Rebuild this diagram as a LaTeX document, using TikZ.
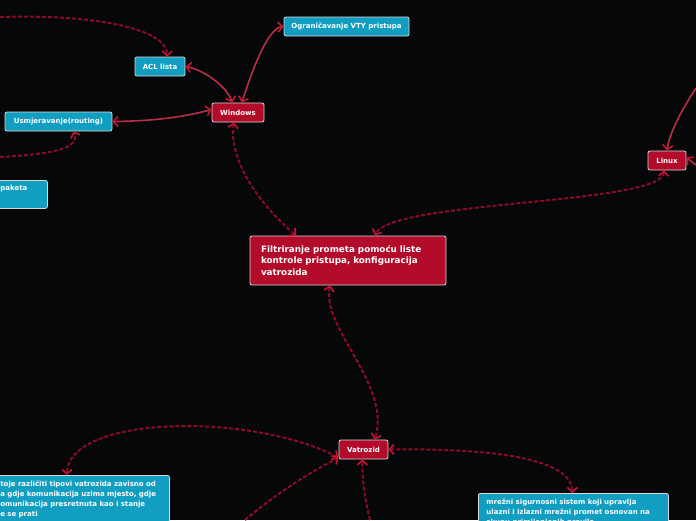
\documentclass[tikz,border=0pt]{standalone}
\usepackage{fontspec}
\setmainfont{DejaVu Sans}
\usetikzlibrary{arrows.meta,calc}
\definecolor{bgdark}{RGB}{5,7,9}
\definecolor{topicred}{RGB}{179,12,42}
\definecolor{topiccyan}{RGB}{18,158,192}
\definecolor{linkred}{RGB}{140,12,38}
\definecolor{tipred}{RGB}{205,18,50}

\begin{document}
\begin{tikzpicture}[x=1pt,y=-1pt,
    >={Straight Barb[length=4.5pt,width=10pt,line width=1.6pt,color=tipred]},
    tp/.style={draw=white!85!black,rounded corners=2pt,line width=0.8pt,text=white,
               font=\fontsize{7}{9.5}\selectfont\bfseries,inner sep=0pt,minimum height=19pt},
    hub/.style={tp,fill=topicred},
    leaf/.style={tp,fill=topiccyan},
    note/.style={tp,fill=topiccyan,align=left,anchor=north west,inner xsep=8pt,inner ysep=5pt,
                 font=\fontsize{7}{10}\selectfont\bfseries},
    dl/.style={linkred,line width=2pt,dash pattern=on 4pt off 2pt},
    sl/.style={tipred!75!gray,line width=1.6pt}]
    \useasboundingbox (0,0) rectangle (696,520);
    \fill[bgdark] (0,0) rectangle (696,520);
    \node[leaf,minimum width=50pt]  (acl)  at (160,66.5)   {ACL lista};
    \node[leaf,minimum width=125pt] (vty)  at (346.5,26.5) {Ograničavanje VTY pristupa};
    \node[hub,minimum width=52pt]   (win)  at (238,112.5)  {Windows};
    \node[leaf,minimum width=107pt] (rout) at (58.5,121.5) {Usmjeravanje(routing)};
    \node[leaf,anchor=north west,minimum width=51pt,minimum height=28pt,text width=43pt,
          align=left,text height=7pt,text depth=14pt] (pak) at (-4,180) {paketa};
    \node[hub,minimum width=38pt]   (lin)  at (667,160.5)  {Linux};
    \node[hub,minimum width=196pt,minimum height=49pt,text width=174pt,align=left,
          font=\fontsize{8.8}{11.5}\selectfont\bfseries] (main) at (348,260.5)
          {Filtriranje prometa pomoću liste\\kontrole pristupa, konfiguracija\\vatrozida};
    \node[hub,minimum width=49pt]   (vat)  at (363.5,449.5) {Vatrozid};
    \node[note,text width=161pt] (tipovi) at (-8,475)
          {toje različiti tipovi vatrozida zavisno od\\a gdje komunikacija uzima mjesto, gdje\\omunikacija presretnuta kao i stanje\\e se prati};
    \node[note,text width=174pt] (mrezni) at (478,493)
          {mrežni sigurnosni sistem koji upravlja\\ulazni i izlazni mrežni promet osnovan na\\skupu primijenjenih pravila};
    % free ends leaving the page
    \coordinate (offtl) at (0,17);
    \coordinate (offl)  at (0,157);
    \coordinate (offtr) at (696,88);
    \coordinate (offr)  at (696,165);
    \coordinate (offb1) at (245,520);
    \coordinate (offb2) at (370,520);
    \draw[dl,->] (offtl) .. controls (100,14) and (168,30) .. ([xshift=7pt]acl.north);
    \draw[sl,<->] (acl.east) .. controls (205,70) and (228,88) .. ([xshift=-6pt]win.north);
    \draw[sl,<->] ([xshift=4pt]win.north) .. controls (252,70) and (268,28) .. (vty.west);
    \draw[sl,<->] (rout.east) .. controls (150,121) and (180,118) .. ([yshift=3pt]win.west);
    \draw[dl,->] (offl) .. controls (55,154) and (80,148) .. ([xshift=15pt]rout.south);
    \draw[dl,<->] ([xshift=-4pt]win.south) .. controls (228,160) and (260,205) .. ([xshift=-52pt]main.north);
    \draw[dl,<->] ([xshift=-3pt]lin.south) .. controls (662,205) and (390,200) .. ([xshift=27pt]main.north);
    \draw[sl,->] (offtr) .. controls (685,105) and (670,130) .. (lin.north);
    \draw[sl,->] (offr) -- ([yshift=3pt]lin.east);
    \draw[dl,<->] ([xshift=-18pt]main.south) .. controls (322,330) and (392,385) .. ([xshift=11pt]vat.north);
    \draw[dl,<->] ([yshift=-8pt]vat.west) .. controls (250,412) and (68,415) .. ([xshift=-14pt]tipovi.north);
    \draw[dl,->] (offb1) .. controls (280,490) and (315,470) .. ([yshift=-8pt]vat.west);
    \draw[dl,->] (offb2) .. controls (365,500) and (362,480) .. ([xshift=-1pt]vat.south);
    \draw[dl,<->] (vat.east) .. controls (500,448) and (572,460) .. ([xshift=-1pt]mrezni.north);
\end{tikzpicture}
\end{document}
